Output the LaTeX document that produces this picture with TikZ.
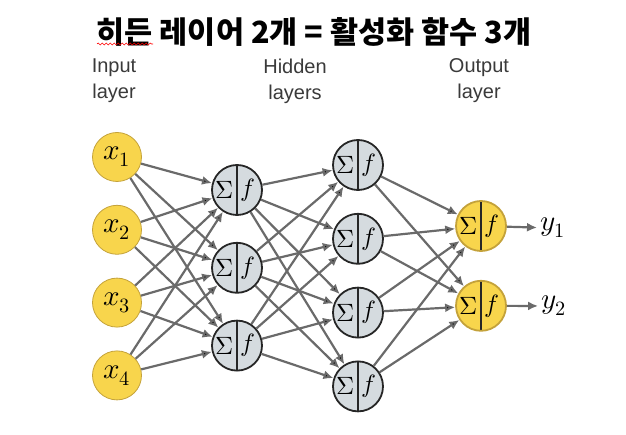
\documentclass[tikz,border=0pt]{standalone}
\usepackage{fontspec}
\usepackage{unicode-math}
\setsansfont{Liberation Sans}
\newfontfamily\hangul{Noto Sans CJK KR}
\usetikzlibrary{arrows.meta,positioning,decorations.pathmorphing}
\definecolor{unitgold}{HTML}{F8D54C}
\definecolor{unitrim}{HTML}{C4A23A}
\definecolor{unitgray}{HTML}{D5DBDF}
\definecolor{wiregray}{HTML}{6A6A6A}
\definecolor{labelgray}{HTML}{3A3A3A}
\tikzset{
    inp/.style={
           circle,
           draw=unitrim, thick,
           fill=unitgold,
           minimum size=49pt,
           inner sep=0pt,
           font=\fontsize{29}{30}\selectfont,
           },
}
\tikzset{
    neuron/.style={
           circle,
           draw=black!85, line width=1.8pt,
           fill=unitgray,
           minimum size=50pt,
           inner sep=0pt,
           path picture={
             \draw[black!85, line width=1.8pt] (path picture bounding box.north) -- (path picture bounding box.south);
             \node[anchor=center, inner sep=0pt, font=\fontsize{25}{27}\selectfont] at ([xshift=-12pt]path picture bounding box.center) {$\Sigma$};
             \node[anchor=center, inner sep=0pt, font=\fontsize{25}{27}\selectfont] at ([xshift=11pt]path picture bounding box.center) {$f$};
           },
           },
    outneuron/.style={neuron, draw=unitrim, fill=unitgold},
    wire/.style={draw=wiregray, line width=2.2pt, -{Latex[length=10pt,width=9pt]}},
    layername/.style={align=center, text=labelgray, font=\sffamily\fontsize{20}{26}\selectfont},
}

\begin{document}
\begin{tikzpicture}[x=1pt,y=-1pt]
\useasboundingbox (0,0) rectangle (626,435);
% title and layer names
\node[font=\hangul\bfseries\fontsize{30.5}{32}\selectfont] (title) at (314,32) {히든 레이어 2개 = 활성화 함수 3개};
\draw[red, line width=0.6pt, decorate, decoration={snake, amplitude=1pt, segment length=4pt}] (97,44) -- (153,44);
\node[layername] (inname) at (114,81) {Input\\layer};
\node[layername] (hidname) at (295,81) {Hidden\\layers};
\node[layername] (outname) at (479,81) {Output\\layer};
% input layer
\node[inp] (x1) at (117,157) {$x_1$};
\node[inp, below = 23pt of x1] (x2) {$x_2$};
\node[inp, below = 23pt of x2] (x3) {$x_3$};
\node[inp, below = 23pt of x3] (x4) {$x_4$};
% first hidden layer
\node[neuron] (h1) at (237,190) {};
\node[neuron, below = 26pt of h1] (h2) {};
\node[neuron, below = 26pt of h2] (h3) {};
% second hidden layer
\node[neuron] (g1) at (358,165) {};
\node[neuron, below = 22pt of g1] (g2) {};
\node[neuron, below = 22pt of g2] (g3) {};
\node[neuron, below = 22pt of g3] (g4) {};
% output layer
\node[outneuron] (o1) at (481,226) {};
\node[outneuron, below = 28pt of o1] (o2) {};
\node[font=\fontsize{29}{30}\selectfont] (y1) at (553,228) {$y_1$};
\node[font=\fontsize{29}{30}\selectfont] (y2) at (554,306) {$y_2$};
% connections
\draw[wire] (x1) edge (h1) edge (h2) edge (h3);
\draw[wire] (x2) edge (h1) edge (h2) edge (h3);
\draw[wire] (x3) edge (h1) edge (h2) edge (h3);
\draw[wire] (x4) edge (h1) edge (h2) edge (h3);
\draw[wire] (h1) edge (g1) edge (g2) edge (g3) edge (g4);
\draw[wire] (h2) edge (g1) edge (g2) edge (g3) edge (g4);
\draw[wire] (h3) edge (g1) edge (g2) edge (g3) edge (g4);
\draw[wire] (g1) edge (o1) edge (o2);
\draw[wire] (g2) edge (o1) edge (o2);
\draw[wire] (g3) edge (o1) edge (o2);
\draw[wire] (g4) edge (o1) edge (o2);
\draw[wire] (o1) -- (y1);
\draw[wire] (o2) -- (y2);
\end{tikzpicture}
\end{document}
